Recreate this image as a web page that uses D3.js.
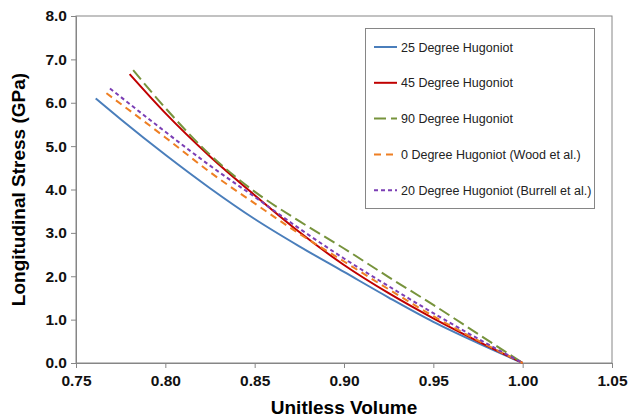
<!DOCTYPE html>
<html>
<head>
<meta charset="utf-8">
<script src="https://cdn.jsdelivr.net/npm/d3@7"></script>
<style>
  body { margin: 0; background: #fff; }
  text { font-family: "Liberation Sans", Arial, sans-serif; }
</style>
</head>
<body>
<svg id="chart" width="629" height="418"></svg>
<script>
// values (unitless volume, stress GPa)
const deg25 = [[0.761,6.10],[0.775,5.62],[0.80,4.80],[0.825,4.03],[0.85,3.32],[0.875,2.69],[0.90,2.10],[0.925,1.51],[0.95,0.95],[0.975,0.46],[1.00,0]];
const deg45 = [[0.780,6.66],[0.80,5.76],[0.825,4.76],[0.85,3.87],[0.875,3.02],[0.90,2.26],[0.925,1.61],[0.95,1.03],[0.975,0.50],[1.00,0]];
const deg90 = [[0.782,6.75],[0.80,5.88],[0.825,4.80],[0.85,3.95],[0.875,3.27],[0.90,2.64],[0.925,1.98],[0.95,1.34],[0.975,0.67],[1.00,0]];
const deg0wood = [[0.767,6.22],[0.80,5.20],[0.825,4.40],[0.85,3.68],[0.875,2.98],[0.90,2.34],[0.925,1.70],[0.95,1.08],[0.975,0.52],[1.00,0]];
const deg20burrell = [[0.769,6.33],[0.80,5.33],[0.825,4.55],[0.85,3.83],[0.875,3.10],[0.90,2.41],[0.925,1.77],[0.95,1.15],[0.975,0.56],[1.00,0]];

const seriesNames = ["25 Degree Hugoniot", "45 Degree Hugoniot", "90 Degree Hugoniot",
                     "0 Degree Hugoniot (Wood et al.)", "20 Degree Hugoniot (Burrell et al.)"];
const xTicks = [0.75, 0.80, 0.85, 0.90, 0.95, 1.00, 1.05];
const yTicks = [0, 1, 2, 3, 4, 5, 6, 7, 8];

const series = [
  { name: seriesNames[0], data: deg25, color: "#4a7ebb", dash: null },
  { name: seriesNames[1], data: deg45, color: "#c00000", dash: null },
  { name: seriesNames[2], data: deg90, color: "#77933c", dash: "12,5" },
  { name: seriesNames[3], data: deg0wood, color: "#ee7f23", dash: "7,5" },
  { name: seriesNames[4], data: deg20burrell, color: "#7b3fb5", dash: "4,3" }
];

const svg = d3.select("#chart");
const m = { left: 76, top: 16, right: 612, bottom: 363 };

const x = d3.scaleLinear().domain([0.75, 1.05]).range([m.left, m.right]);
const y = d3.scaleLinear().domain([0, 8]).range([m.bottom, m.top]);

// plot frame
svg.append("rect")
  .attr("x", m.left).attr("y", m.top)
  .attr("width", m.right - m.left).attr("height", m.bottom - m.top)
  .attr("fill", "none").attr("stroke", "#868686").attr("stroke-width", 1);

const xAxis = svg.append("g")
  .attr("transform", `translate(0,${m.bottom})`)
  .call(d3.axisBottom(x).tickValues(xTicks).tickFormat(d3.format(".2f")).tickSize(5).tickPadding(7));
const yAxis = svg.append("g")
  .attr("transform", `translate(${m.left},0)`)
  .call(d3.axisLeft(y).tickValues(yTicks).tickFormat(d3.format(".1f")).tickSize(5).tickPadding(4));

[xAxis, yAxis].forEach(g => {
  g.select(".domain").attr("stroke", "#868686");
  g.selectAll(".tick line").attr("stroke", "#868686");
  g.selectAll(".tick text")
    .style("font-family", "'Liberation Sans', Arial, sans-serif")
    .style("font-size", "15.5px")
    .style("font-weight", 700)
    .attr("fill", "#111");
});

// axis titles
svg.append("text")
  .attr("x", (m.left + m.right) / 2).attr("y", 414)
  .attr("text-anchor", "middle")
  .style("font-size", "19px").style("font-weight", 700)
  .text("Unitless Volume");

svg.append("text")
  .attr("transform", `translate(25,${(m.top + m.bottom) / 2}) rotate(-90)`)
  .attr("text-anchor", "middle")
  .style("font-size", "19px").style("font-weight", 700)
  .text("Longitudinal Stress (GPa)");

// curves
const line = d3.line()
  .x(d => x(d[0]))
  .y(d => y(d[1]))
  .curve(d3.curveMonotoneX);

svg.append("g")
  .selectAll("path")
  .data(series)
  .join("path")
  .attr("d", d => line(d.data))
  .attr("fill", "none")
  .attr("stroke", d => d.color)
  .attr("stroke-width", 2)
  .attr("stroke-dasharray", d => d.dash);

// legend
const leg = svg.append("g");
leg.append("rect")
  .attr("x", 365.5).attr("y", 28.5).attr("width", 229).attr("height", 180)
  .attr("fill", "#fff").attr("stroke", "#868686");

const item = leg.selectAll("g")
  .data(series)
  .join("g")
  .attr("transform", (d, i) => `translate(374,${47 + i * 35.8})`);

item.append("line")
  .attr("x1", 0).attr("x2", 23)
  .attr("stroke", d => d.color)
  .attr("stroke-width", 2)
  .attr("stroke-dasharray", d => d.dash);

item.append("text")
  .attr("x", 27).attr("y", 4.5)
  .style("font-size", "12.5px")
  .attr("fill", "#222")
  .text(d => d.name);
</script>
</body>
</html>
